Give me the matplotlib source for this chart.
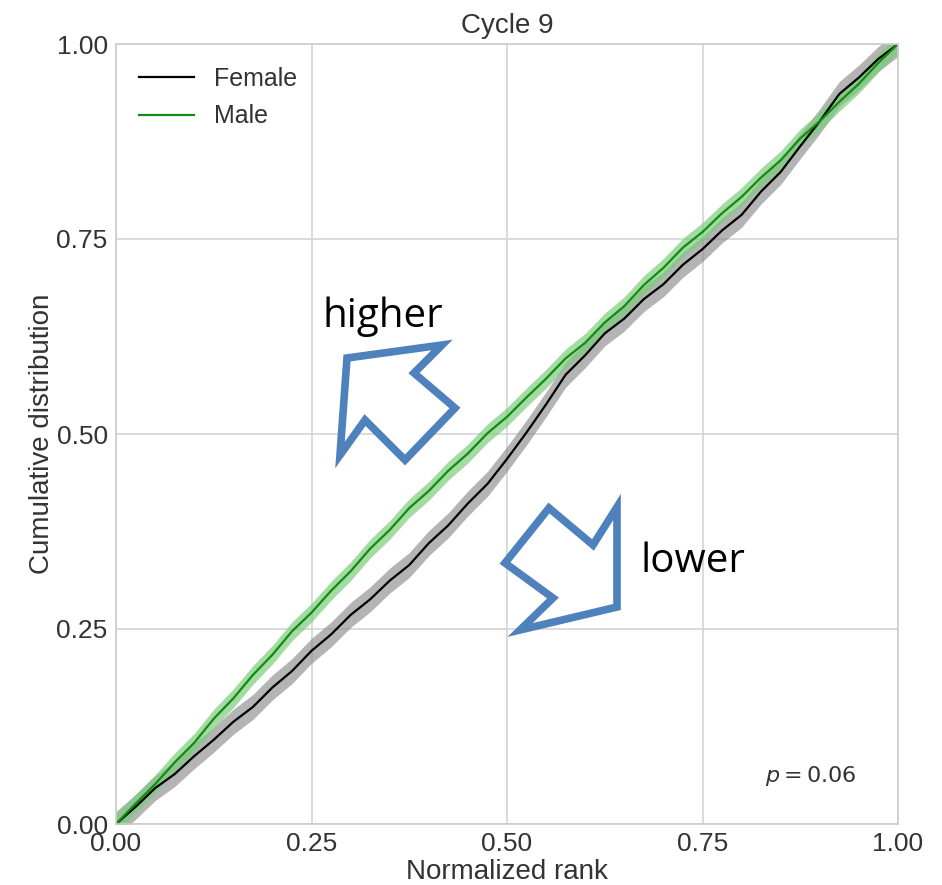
"""
    Cumulative distribution of normalized rank, female vs male (cycle 9)
"""

import numpy as np
import matplotlib.pyplot as plt
from matplotlib.patches import Polygon
import matplotlib.patheffects as pe

plt.rcParams['font.family'] = ['Liberation Sans', 'DejaVu Sans']

rank = np.linspace(0, 1, 41)

female = [0.000, 0.022, 0.046, 0.064, 0.087, 0.108, 0.131, 0.150, 0.175, 0.196,
          0.222, 0.243, 0.268, 0.288, 0.312, 0.332, 0.360, 0.383, 0.411, 0.436,
          0.468, 0.502, 0.538, 0.576, 0.601, 0.629, 0.648, 0.673, 0.692, 0.717,
          0.737, 0.761, 0.781, 0.811, 0.836, 0.869, 0.901, 0.936, 0.957, 0.981,
          1.000]
male = [0.000, 0.026, 0.051, 0.079, 0.104, 0.135, 0.161, 0.191, 0.217, 0.247,
        0.271, 0.299, 0.324, 0.353, 0.377, 0.405, 0.427, 0.453, 0.475, 0.501,
        0.522, 0.547, 0.571, 0.597, 0.617, 0.643, 0.664, 0.691, 0.713, 0.739,
        0.759, 0.783, 0.804, 0.829, 0.851, 0.879, 0.901, 0.926, 0.949, 0.976,
        1.000]
female_err = 0.016
male_err = 0.012

p_value = 0.06

# outline arrows drawn on the slide, in figure pixels
higher_arrow = [(347, 358), (442, 345), (414, 373), (455, 408),
                (405, 460), (365, 420), (340, 455)]
lower_arrow = [(617, 607), (520, 630), (553, 598), (505, 563),
               (549, 508), (593, 545), (617, 507)]

W, H = 942, 885
fig = plt.figure(figsize=(W / 100, H / 100), dpi=100)
ax = fig.add_axes([116 / W, 1 - 824 / H, 782 / W, 780 / H])

female = np.array(female)
male = np.array(male)

ax.fill_between(rank, female - female_err, female + female_err,
                color='#8c8c8c', alpha=0.65, lw=0)
ax.plot(rank, female, color='black', lw=1.6, label='Female')
ax.fill_between(rank, male - male_err, male + male_err,
                color='#7ccd7c', alpha=0.7, lw=0)
ax.plot(rank, male, color='#138a13', lw=1.6, label='Male')

ax.set_xlim(0, 1)
ax.set_ylim(0, 1)
ticks = [0, 0.25, 0.5, 0.75, 1.0]
ax.set_xticks(ticks)
ax.set_yticks(ticks)
ax.set_xticklabels([f'{t:.2f}' for t in ticks])
ax.set_yticklabels([f'{t:.2f}' for t in ticks])
ax.tick_params(length=0, labelsize=19, colors='#333333', pad=6)
ax.grid(color='#d4d4d4', lw=1.2)
ax.set_axisbelow(True)
for s in ax.spines.values():
    s.set_color('#cccccc')
    s.set_linewidth(1.2)

ax.set_title('Cycle 9', fontsize=20, color='#333333', pad=8)
ax.set_xlabel('Normalized rank', fontsize=20, color='#333333', labelpad=2)
ax.set_ylabel('Cumulative distribution', fontsize=20, color='#333333', labelpad=1)

leg = ax.legend(loc='upper left', frameon=False, fontsize=18,
                handlelength=2.2, handletextpad=0.8, labelspacing=0.55,
                borderaxespad=0.5)
for t in leg.get_texts():
    t.set_color('#333333')

ax.text(0.83, 0.062, f'$p = {p_value:.2f}$', fontsize=16, color='#333333',
        va='center')

for pts in (higher_arrow, lower_arrow):
    verts = [(x / W, 1 - y / H) for x, y in pts]
    poly = Polygon(verts, closed=True, transform=fig.transFigure,
                   facecolor='white', edgecolor='#4f81bd', lw=5.5,
                   joinstyle='miter', zorder=5,
                   path_effects=[pe.SimplePatchShadow(offset=(2, -2), alpha=0.25),
                                 pe.Normal()])
    fig.add_artist(poly)

fig.text(322 / W, 1 - 327 / H, 'higher', fontsize=29, family='Open Sans',
         color='black', va='baseline')
fig.text(640 / W, 1 - 572 / H, 'lower', fontsize=29, family='Open Sans',
         color='black', va='baseline')

fig.savefig('out.png', dpi=100, facecolor='white')
